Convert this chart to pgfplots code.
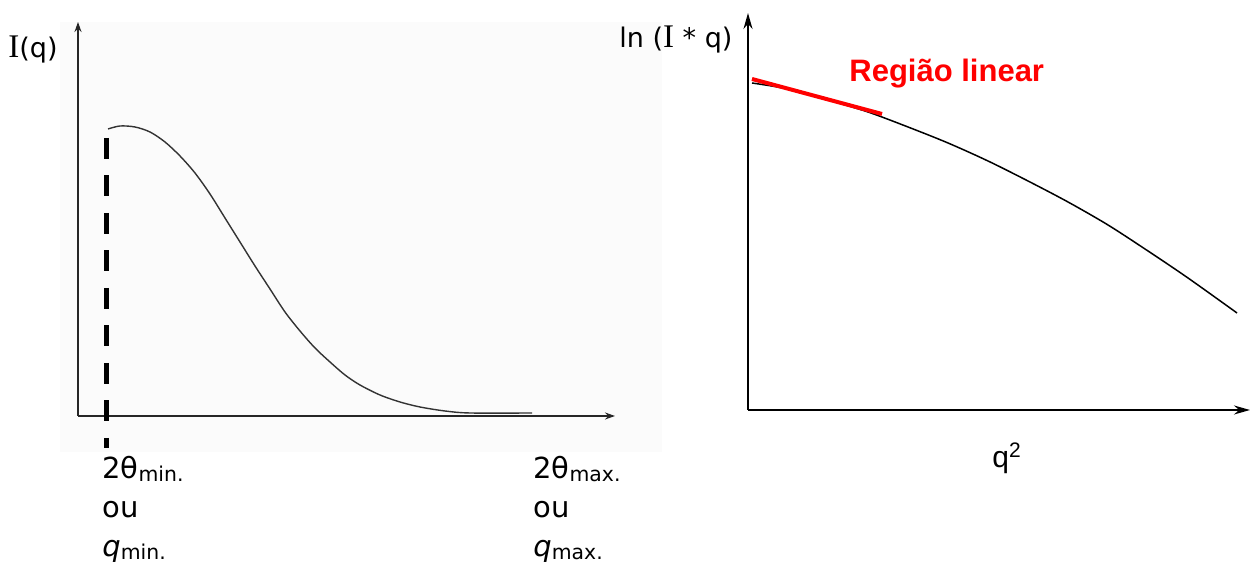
\documentclass[border=0pt]{standalone}
\usepackage{fontspec}
\setmainfont{DejaVu Sans}
\newfontfamily\arialf{Liberation Sans}
\newfontfamily\timesf{Liberation Serif}
\usepackage{pgfplots}
\pgfplotsset{compat=1.18}
\usetikzlibrary{arrows.meta}
\definecolor{bggray}{RGB}{251,251,251}
\newcommand{\sub}[1]{\raisebox{-1.5pt}{\fontsize{10.2}{12}\selectfont #1}}
\newcommand{\bigI}{{\timesf\fontsize{16.5}{18}\selectfont I}}
\begin{document}
\begin{tikzpicture}
\useasboundingbox (0,0) rectangle (626.5pt,282.5pt);
\fill[bggray] (30pt,56.5pt) rectangle (331pt,271.5pt);
\begin{axis}[
  at={(39pt,74.5pt)}, anchor=south west,
  scale only axis, width=268.5pt, height=197pt,
  xmin=0, xmax=537, ymin=0, ymax=394,
  axis lines=left, xtick=\empty, ytick=\empty, clip=false,
  axis line style={black!85, line width=0.9pt, -{Stealth[length=5pt,width=3.5pt]}},
]
\addplot[black!80, line width=0.7pt, smooth] coordinates {
(30,287) (42,290) (57,289) (72,284) (87,274) (102,260) (117,243) (132,222)
(147,198) (162,174) (177,150) (192,127) (207,104) (222,85) (237,68) (252,54)
(267,41) (282,31) (302,21) (322,14) (342,9) (367,5) (392,3) (454,3)};
\addplot[black, line width=2.5pt, dash pattern=on 10.5pt off 8.25pt] coordinates {(29,278) (29,-32)};
\node[anchor=base west, inner sep=0pt, font=\fontsize{13.5}{16}\selectfont] at (axis cs:-70,358) {\bigI(q)};
\node[anchor=base west, inner sep=0pt, font=\fontsize{14.5}{17}\selectfont] at (axis cs:24,-63) {2θ\sub{min.}};
\node[anchor=base west, inner sep=0pt, font=\fontsize{14.5}{17}\selectfont] at (axis cs:24,-102) {ou};
\node[anchor=base west, inner sep=0pt, font=\fontsize{14.5}{17}\selectfont] at (axis cs:24,-141) {\textit{q}\sub{min.}};
\node[anchor=base west, inner sep=0pt, font=\fontsize{14.5}{17}\selectfont] at (axis cs:455,-63) {2θ\sub{max.}};
\node[anchor=base west, inner sep=0pt, font=\fontsize{14.5}{17}\selectfont] at (axis cs:455,-102) {ou};
\node[anchor=base west, inner sep=0pt, font=\fontsize{14.5}{17}\selectfont] at (axis cs:455,-141) {\textit{q}\sub{max.}};
\end{axis}
\begin{axis}[
  at={(374pt,77.5pt)}, anchor=south west,
  scale only axis, width=251pt, height=198.5pt,
  xmin=0, xmax=502, ymin=0, ymax=397,
  axis lines=left, xtick=\empty, ytick=\empty, clip=false,
  axis line style={black, line width=1pt, -{Stealth[length=8pt,width=4.5pt]}},
]
\addplot[black, line width=0.75pt, smooth] coordinates {
(4,327) (40,321) (80,310) (120,298) (160,283) (200,267) (240,249) (280,229)
(320,208) (360,185) (400,159) (440,132) (489,97)};
\addplot[red, line width=2pt] coordinates {(4,331) (134,296)};
\node[anchor=base west, inner sep=0pt, font=\fontsize{13.5}{16}\selectfont] at (axis cs:-129,362) {ln (\bigI\ * q)};
\node[anchor=base west, inner sep=0pt, text=red, font=\arialf\bfseries\fontsize{15.5}{18}\selectfont] at (axis cs:101,328) {Região linear};
\node[anchor=base west, inner sep=0pt, font=\arialf\fontsize{15}{18}\selectfont] at (axis cs:244,-58) {q\textsuperscript{2}};
\end{axis}
\end{tikzpicture}
\end{document}
